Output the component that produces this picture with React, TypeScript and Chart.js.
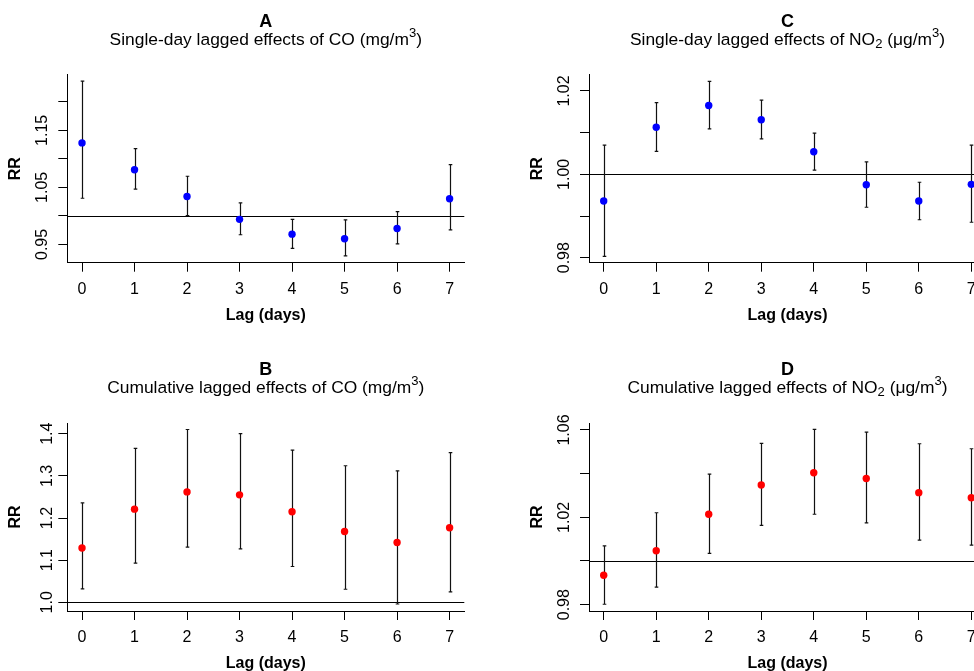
import React, { useEffect, useRef } from 'react';
import { Chart, registerables } from 'chart.js';

Chart.register(...registerables);

// ---------- data ----------
const lags = [0, 1, 2, 3, 4, 5, 6, 7];

// A: single-day lagged effects of CO
const coSingleRR = [1.128, 1.081, 1.034, 0.994, 0.968, 0.96, 0.978, 1.03];
const coSingleLo = [1.031, 1.047, 1.0005, 0.967, 0.943, 0.93, 0.951, 0.9755];
const coSingleHi = [1.2364, 1.118, 1.0695, 1.023, 0.994, 0.993, 1.0075, 1.09];

// B: cumulative lagged effects of CO
const coCumRR = [1.129, 1.221, 1.262, 1.255, 1.215, 1.168, 1.142, 1.177];
const coCumLo = [1.032, 1.093, 1.131, 1.127, 1.085, 1.031, 0.996, 1.025];
const coCumHi = [1.236, 1.365, 1.41, 1.4, 1.361, 1.324, 1.312, 1.355];

// C: single-day lagged effects of NO2
const no2SingleRR = [0.9936, 1.0113, 1.0165, 1.0131, 1.0054, 0.9975, 0.9936, 0.9976];
const no2SingleLo = [0.9803, 1.0055, 1.0109, 1.0085, 1.001, 0.9921, 0.9891, 0.9885];
const no2SingleHi = [1.007, 1.0172, 1.0223, 1.0178, 1.0099, 1.003, 0.9981, 1.007];

// D: cumulative lagged effects of NO2
const no2CumRR = [0.9935, 1.0047, 1.0214, 1.0348, 1.0404, 1.0378, 1.0313, 1.029];
const no2CumLo = [0.9802, 0.988, 1.0035, 1.0163, 1.0214, 1.0175, 1.0096, 1.0073];
const no2CumHi = [1.0069, 1.0221, 1.0398, 1.0539, 1.0603, 1.059, 1.0537, 1.0514];

// axis ranges and ticks
const xRange = [-0.28, 7.28];
const aRange = [0.918, 1.2475];
const bRange = [0.9794, 1.4254];
const cRange = [0.9788, 1.0239];
const dRange = [0.9771, 1.0632];

const aTicks = [0.95, 1.0, 1.05, 1.1, 1.15, 1.2];
const aTickLabels = ['0.95', '', '1.05', '', '1.15', ''];
const bTicks = [1.0, 1.1, 1.2, 1.3, 1.4];
const bTickLabels = ['1.0', '1.1', '1.2', '1.3', '1.4'];
const cTicks = [0.98, 0.99, 1.0, 1.01, 1.02];
const cTickLabels = ['0.98', '', '1.00', '', '1.02'];
const dTicks = [0.98, 1.0, 1.02, 1.04, 1.06];
const dTickLabels = ['0.98', '', '1.02', '', '1.06'];

const refValue = 1.0;
const xTitle = 'Lag (days)';
const yTitle = 'RR';

type Seg = { t: string; sup?: boolean; sub?: boolean };

const aSubtitle: Seg[] = [{ t: 'Single-day lagged effects of CO (mg/m' }, { t: '3', sup: true }, { t: ')' }];
const bSubtitle: Seg[] = [{ t: 'Cumulative lagged effects of CO (mg/m' }, { t: '3', sup: true }, { t: ')' }];
const cSubtitle: Seg[] = [
  { t: 'Single-day lagged effects of NO' }, { t: '2', sub: true }, { t: ' (μg/m' }, { t: '3', sup: true }, { t: ')' },
];
const dSubtitle: Seg[] = [
  { t: 'Cumulative lagged effects of NO' }, { t: '2', sub: true }, { t: ' (μg/m' }, { t: '3', sup: true }, { t: ')' },
];

// ---------- layout / style ----------
const FONT = '"Liberation Sans", Arial, Helvetica, sans-serif';
const Y_W = 61.5;
const X_H = 62;
const BLUE = '#0000ff';
const RED = '#ff0000';

interface Spec {
  letter: string;
  subtitle: Seg[];
  rr: number[];
  lo: number[];
  hi: number[];
  color: string;
  range: number[];
  ticks: number[];
  tickLabels: string[];
  canvas: { x: number; y: number; w: number; h: number };
  plot: { l: number; r: number; t: number; b: number };
}

const panels: Spec[] = [
  {
    letter: 'A', subtitle: aSubtitle, rr: coSingleRR, lo: coSingleLo, hi: coSingleHi, color: BLUE,
    range: aRange, ticks: aTicks, tickLabels: aTickLabels,
    canvas: { x: 0, y: 0, w: 487, h: 345 }, plot: { l: 67.3, r: 464.3, t: 74.7, b: 262.7 },
  },
  {
    letter: 'C', subtitle: cSubtitle, rr: no2SingleRR, lo: no2SingleLo, hi: no2SingleHi, color: BLUE,
    range: cRange, ticks: cTicks, tickLabels: cTickLabels,
    canvas: { x: 487, y: 0, w: 513, h: 345 }, plot: { l: 589, r: 986, t: 74.7, b: 262.7 },
  },
  {
    letter: 'B', subtitle: bSubtitle, rr: coCumRR, lo: coCumLo, hi: coCumHi, color: RED,
    range: bRange, ticks: bTicks, tickLabels: bTickLabels,
    canvas: { x: 0, y: 335, w: 487, h: 345 }, plot: { l: 67.3, r: 464.3, t: 423, b: 611 },
  },
  {
    letter: 'D', subtitle: dSubtitle, rr: no2CumRR, lo: no2CumLo, hi: no2CumHi, color: RED,
    range: dRange, ticks: dTicks, tickLabels: dTickLabels,
    canvas: { x: 487, y: 335, w: 513, h: 345 }, plot: { l: 589, r: 986, t: 423, b: 611 },
  },
];

function drawRich(ctx: CanvasRenderingContext2D, segs: Seg[], cx: number, baseline: number, size: number) {
  const small = size * 0.75;
  let total = 0;
  const parts = segs.map((s) => {
    const fs = s.sup || s.sub ? small : size;
    ctx.font = `${fs}px ${FONT}`;
    const w = ctx.measureText(s.t).width;
    total += w;
    return { s, fs, w };
  });
  let x = cx - total / 2;
  ctx.textAlign = 'left';
  ctx.textBaseline = 'alphabetic';
  parts.forEach((p) => {
    ctx.font = `${p.fs}px ${FONT}`;
    const dy = p.s.sup ? -size * 0.45 : p.s.sub ? size * 0.18 : 0;
    ctx.fillText(p.s.t, x, baseline + dy);
    x += p.w;
  });
}

function makeDecor(spec: Spec) {
  return {
    id: 'decor' + spec.letter,
    beforeDatasetsDraw(chart: any) {
      const { ctx, chartArea, scales } = chart;
      const xs = scales.x;
      const ys = scales.y;
      ctx.save();
      ctx.strokeStyle = '#000';
      ctx.lineWidth = 1;
      const yr = Math.round(ys.getPixelForValue(refValue)) + 0.5;
      ctx.beginPath();
      ctx.moveTo(chartArea.left, yr);
      ctx.lineTo(chartArea.right, yr);
      ctx.stroke();

      ctx.strokeStyle = '#111';
      ctx.lineWidth = 1.2;
      lags.forEach((lag, i) => {
        const px = Math.round(xs.getPixelForValue(lag)) + 0.5;
        const pl = ys.getPixelForValue(spec.lo[i]);
        const ph = ys.getPixelForValue(spec.hi[i]);
        ctx.beginPath();
        ctx.moveTo(px, pl);
        ctx.lineTo(px, ph);
        ctx.moveTo(px - 1.8, pl);
        ctx.lineTo(px + 1.8, pl);
        ctx.moveTo(px - 1.8, ph);
        ctx.lineTo(px + 1.8, ph);
        ctx.stroke();
      });
      ctx.restore();
    },
    afterDraw(chart: any) {
      const { ctx, chartArea } = chart;
      const cx = (chartArea.left + chartArea.right) / 2;
      ctx.save();
      ctx.fillStyle = '#000';
      ctx.font = `bold 18px ${FONT}`;
      ctx.textAlign = 'center';
      ctx.textBaseline = 'alphabetic';
      ctx.fillText(spec.letter, cx, chartArea.top - 48);
      drawRich(ctx, spec.subtitle, cx, chartArea.top - 30, 17.4);
      ctx.restore();
    },
  };
}

function Panel({ spec }: { spec: Spec }) {
  const ref = useRef<HTMLCanvasElement>(null);
  const { canvas, plot } = spec;
  useEffect(() => {
    if (!ref.current) return;
    const padding = {
      left: plot.l - canvas.x - Y_W,
      right: canvas.x + canvas.w - plot.r,
      top: plot.t - canvas.y,
      bottom: canvas.y + canvas.h - plot.b - X_H,
    };
    const tickFont = { family: FONT, size: 16 };
    const titleFont = { family: FONT, size: 16, weight: 'bold' as const };
    const chart = new Chart(ref.current, {
      type: 'scatter',
      data: {
        datasets: [
          {
            data: lags.map((l, i) => ({ x: l, y: spec.rr[i] })),
            backgroundColor: spec.color,
            borderColor: spec.color,
            borderWidth: 0,
            pointRadius: 3.7,
            pointHoverRadius: 3.7,
            showLine: false,
          },
        ],
      },
      options: {
        responsive: false,
        animation: false,
        devicePixelRatio: 1,
        layout: { padding },
        plugins: { legend: { display: false }, tooltip: { enabled: false } },
        scales: {
          x: {
            type: 'linear',
            min: xRange[0],
            max: xRange[1],
            afterBuildTicks: (s: any) => {
              s.ticks = lags.map((v) => ({ value: v }));
            },
            afterFit: (s: any) => {
              s.height = X_H;
            },
            ticks: {
              font: tickFont,
              color: '#000',
              padding: 8,
              autoSkip: false,
              maxRotation: 0,
              minRotation: 0,
              callback: (v: any) => String(v),
            },
            grid: { display: true, drawOnChartArea: false, drawTicks: true, tickLength: 9, color: '#000', lineWidth: 1 },
            border: { display: true, color: '#000', width: 1 },
            title: { display: true, text: xTitle, font: titleFont, color: '#000', padding: 0 },
          },
          y: {
            type: 'linear',
            min: spec.range[0],
            max: spec.range[1],
            afterBuildTicks: (s: any) => {
              s.ticks = spec.ticks.map((v) => ({ value: v }));
            },
            afterFit: (s: any) => {
              s.width = Y_W;
            },
            ticks: {
              font: tickFont,
              color: '#000',
              padding: 0,
              autoSkip: false,
              minRotation: 90,
              maxRotation: 90,
              crossAlign: 'center',
              callback: (_v: any, i: number) => spec.tickLabels[i],
            },
            grid: { display: true, drawOnChartArea: false, drawTicks: true, tickLength: 9, color: '#000', lineWidth: 1 },
            border: { display: true, color: '#000', width: 1 },
            title: { display: true, text: yTitle, font: titleFont, color: '#000', padding: 0 },
          },
        },
      },
      plugins: [makeDecor(spec)],
    } as any);
    return () => chart.destroy();
  }, []);
  return (
    <canvas
      ref={ref}
      width={canvas.w}
      height={canvas.h}
      style={{ position: 'absolute', left: canvas.x, top: canvas.y, width: canvas.w, height: canvas.h }}
    />
  );
}

export default function App() {
  return (
    <div
      style={{
        position: 'fixed',
        left: 0,
        top: 0,
        width: 974,
        height: 671,
        overflow: 'hidden',
        background: '#fff',
      }}
    >
      {panels.map((p) => (
        <Panel key={p.letter} spec={p} />
      ))}
    </div>
  );
}
